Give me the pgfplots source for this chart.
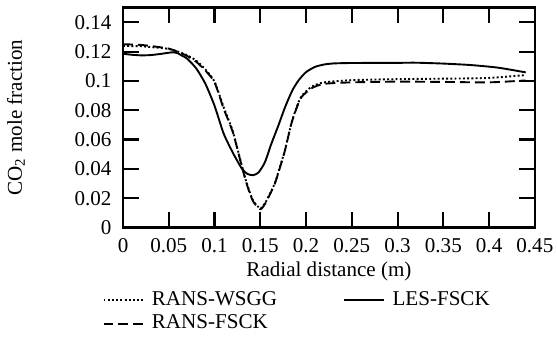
\documentclass[border=0pt]{standalone}
\usepackage{pgfplots}
\pgfplotsset{compat=1.18}
\usepackage{fontspec}
\setmainfont{Liberation Serif}
\begin{document}
\begin{tikzpicture}
\useasboundingbox (-58.4pt,-56.7pt) rectangle (206pt,108pt);
\begin{axis}[
  at={(0,0)}, anchor=south west,
  scale only axis, width=195.5pt, height=104.4pt,
  xmin=0, xmax=0.45, ymin=0, ymax=0.15,
  xtick={0,0.05,...,0.45},
  ytick={0,0.02,0.04,0.06,0.08,0.1,0.12,0.14},
  /pgf/number format/assume math mode=true,
  /pgf/number format/fixed,
  /pgf/number format/precision=2,
  tick align=inside,
  major tick length=7.5pt,
  every tick/.style={black, line width=1pt},
  axis line style={line width=1.3pt},
  xticklabel style={yshift=-1.5pt},
  yticklabel style={xshift=-2pt},
  xlabel={Radial distance (m)},
  ylabel={CO\textsubscript{2} mole fraction},
  xlabel style={at={(axis description cs:0.5,0)}, anchor=center, yshift=-21pt},
  ylabel style={at={(axis description cs:-0.26,0.5)}, anchor=center},
  legend columns=2,
  legend cell align=left,
  legend style={draw=none, fill=none, at={(axis description cs:-0.066,-0.256)}, anchor=north west,
    nodes={inner ysep=1.5pt},
    /tikz/every odd column/.append style={column sep=1.5pt},
    /tikz/every even column/.append style={column sep=29.4pt}},
  legend image code/.code={\draw[#1] (0pt,0pt) -- (19pt,0pt);},
]
\addplot[black, line width=0.9pt, dash pattern=on 0.9pt off 1.1pt, smooth, tension=0.4] coordinates {
(0,0.1238) (0.02,0.1236) (0.04,0.1225) (0.05,0.1218) (0.06,0.1200) (0.07,0.1175)
(0.08,0.1138) (0.09,0.1078) (0.10,0.0995) (0.11,0.0820) (0.12,0.0655) (0.128,0.0465)
(0.135,0.0305) (0.142,0.0185) (0.150,0.0130) (0.155,0.0165) (0.160,0.0225) (0.166,0.0305)
(0.172,0.0425) (0.177,0.0530) (0.184,0.0712) (0.190,0.0825) (0.195,0.0895) (0.206,0.0960)
(0.22,0.0990) (0.25,0.1005) (0.30,0.1012) (0.35,0.1015) (0.40,0.1020) (0.44,0.1040)
};
\addlegendentry{RANS-WSGG}
\addplot[black, line width=0.9pt, smooth, tension=0.4] coordinates {
(0,0.1185) (0.01,0.1178) (0.02,0.1174) (0.03,0.1176) (0.04,0.1183) (0.05,0.1192)
(0.055,0.1195) (0.06,0.1188) (0.065,0.1170) (0.07,0.1152) (0.08,0.1085) (0.09,0.0980)
(0.10,0.0830) (0.11,0.0640) (0.12,0.0510) (0.13,0.0400) (0.136,0.0365) (0.142,0.0357)
(0.148,0.0375) (0.155,0.0445) (0.162,0.0570) (0.17,0.0700) (0.177,0.0820) (0.185,0.0935)
(0.192,0.1005) (0.20,0.1060) (0.21,0.1096) (0.22,0.1112) (0.23,0.1119) (0.25,0.1122)
(0.30,0.1123) (0.32,0.1124) (0.35,0.1118) (0.38,0.1108) (0.41,0.1090) (0.44,0.1058)
};
\addlegendentry{LES-FSCK}
\addplot[black, line width=0.9pt, dash pattern=on 4.7pt off 2.4pt, smooth, tension=0.4] coordinates {
(0,0.1250) (0.02,0.1245) (0.04,0.1230) (0.05,0.1220) (0.06,0.1198) (0.07,0.1170)
(0.08,0.1130) (0.09,0.1070) (0.10,0.0990) (0.11,0.0810) (0.12,0.0650) (0.128,0.0460)
(0.135,0.0300) (0.142,0.0180) (0.150,0.0125) (0.155,0.0160) (0.160,0.0220) (0.166,0.0300)
(0.172,0.0420) (0.177,0.0527) (0.184,0.0710) (0.190,0.0820) (0.195,0.0890) (0.206,0.0950)
(0.22,0.0980) (0.25,0.0990) (0.30,0.0995) (0.35,0.0993) (0.40,0.0990) (0.44,0.1003)
};
\addlegendentry{RANS-FSCK}
\end{axis}
\end{tikzpicture}
\end{document}
